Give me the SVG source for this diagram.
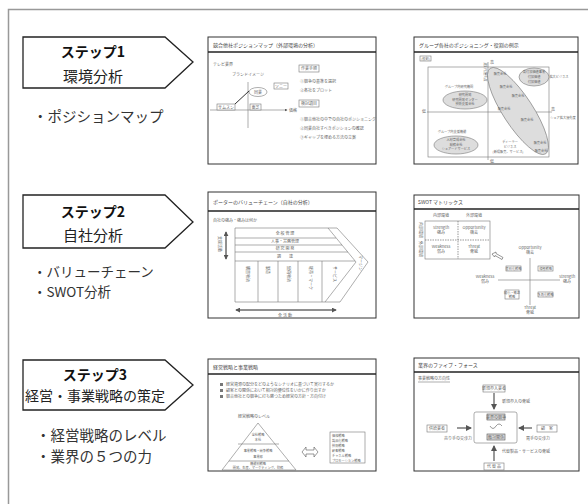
<svg xmlns="http://www.w3.org/2000/svg" width="588" height="504" viewBox="0 0 588 504">
<defs>
<style>
.step{fill:#fff;stroke:#222;stroke-width:1.3}
.sh{font-family:"Noto Sans CJK JP",sans-serif;font-size:14px;font-weight:bold;fill:#111;text-anchor:middle}
.sn{font-family:"Noto Sans CJK JP",sans-serif;font-size:15px;fill:#222;text-anchor:middle}
.bl{font-family:"Noto Sans CJK JP",sans-serif;font-size:14.5px;fill:#333}
.fr{fill:#fff;stroke:#333;stroke-width:1}
.tl{stroke:#222;stroke-width:1.6}
.tt{font-family:"Noto Sans CJK JP",sans-serif;font-size:5px;fill:#444}
.t{font-family:"Noto Sans CJK JP",sans-serif;font-size:4px;fill:#666}
.tc{font-family:"Noto Sans CJK JP",sans-serif;font-size:4px;fill:#666;text-anchor:middle}
.ts{font-family:"Noto Sans CJK JP",sans-serif;font-size:3.2px;fill:#666;text-anchor:middle}
.ln{stroke:#777;stroke-width:0.6;fill:none}
.bx{fill:#fff;stroke:#777;stroke-width:0.6}
.el{fill:#ddd;stroke:#777;stroke-width:0.6}
</style>
<marker id="ah" viewBox="0 0 6 6" refX="5" refY="3" markerWidth="5" markerHeight="5" orient="auto-start-reverse"><path d="M0,0 L6,3 L0,6 z" fill="#555"/></marker>
</defs>
<rect width="588" height="504" fill="#fff"/>
<path d="M8.5,504 V9.5 H588" fill="none" stroke="#999" stroke-width="1.5"/>

<g id="step1">
<polygon class="step" points="23,37 165,37 193,62 165,88 23,88"/>
<text class="sh" x="93" y="57">ステップ1</text>
<text class="sn" x="93" y="82">環境分析</text>
<text class="bl" x="33" y="122">・ポジションマップ</text>
</g>
<g id="step2">
<polygon class="step" points="23,195 165,195 193,222 165,248 23,248"/>
<text class="sh" x="93" y="217">ステップ2</text>
<text class="sn" x="93" y="241">自社分析</text>
<text class="bl" x="33" y="277" style="font-size:13.5px">・バリューチェーン</text>
<text class="bl" x="33" y="297" style="font-size:13.5px">・SWOT分析</text>
</g>
<g id="step3">
<polygon class="step" points="23,360 165,360 193,385 165,410 23,410"/>
<text class="sh" x="95" y="380">ステップ3</text>
<text class="sn" x="95" y="401" style="font-size:14px">経営・事業戦略の策定</text>
<text class="bl" x="36" y="441">・経営戦略のレベル</text>
<text class="bl" x="36" y="462">・業界の５つの力</text>
</g>

<g id="thumb1">
<rect class="fr" x="208" y="37" width="168" height="127"/>
<line class="tl" x1="208" y1="52" x2="376" y2="52"/>
<text class="tt" x="213" y="47">競合他社ポジションマップ（外部環境の分析）</text>
<text class="t" x="213" y="66">テレビ業界</text>
<text class="t" x="232" y="76">ブランドイメージ</text>
<line class="ln" x1="248" y1="82" x2="248" y2="128"/>
<line class="ln" x1="210" y1="110" x2="287" y2="110" marker-end="url(#ah)"/>
<text class="t" x="289" y="111.5">価格</text>
<ellipse cx="258" cy="92" rx="9" ry="4.5" fill="#fff" stroke="#777" stroke-width="0.6"/>
<text class="tc" x="258" y="93.5">同業</text>
<line x1="235" y1="104" x2="249" y2="91" stroke="#333" stroke-width="1"/>
<rect class="bx" x="274" y="83" width="14" height="6"/><text class="tc" x="281" y="87.5">ソニー</text>
<rect class="bx" x="217" y="104" width="18" height="6"/><text class="tc" x="226" y="108.5">サムスン</text>
<rect class="bx" x="250" y="104" width="11" height="6"/><text class="tc" x="255.5" y="108.5">東芝</text>
<rect class="bx" x="299" y="65" width="20" height="7"/><text class="tc" x="309" y="70">作業手順</text>
<text class="t" x="300" y="83">①競争の基準を選択</text>
<text class="t" x="300" y="92">②各社をプロット</text>
<rect class="bx" x="299" y="100" width="20" height="7"/><text class="tc" x="309" y="105">検討項目</text>
<text class="t" x="300" y="121">①競合他社の中での自社のポジショニング</text>
<text class="t" x="300" y="130">②同業自社すべきポジションの確認</text>
<text class="t" x="300" y="139">③ギャップを埋める方法の立案</text>
</g>

<g id="thumb2">
<rect class="fr" x="414" y="37" width="164" height="127"/>
<line class="tl" x1="414" y1="52" x2="578" y2="52"/>
<text class="tt" x="419" y="47">グループ各社のポジショニング・役割の例示</text>
<rect class="bx" x="420" y="56" width="11" height="5"/><text class="ts" x="425.5" y="59.8">(役割)</text>
<rect x="428" y="67" width="121" height="90" fill="none" stroke="#777" stroke-width="0.6"/>
<line class="ln" x1="488" y1="62" x2="488" y2="160"/>
<line class="ln" x1="427" y1="112" x2="552" y2="112"/>
<ellipse class="el" cx="518" cy="111" rx="51" ry="15" transform="rotate(57 518 111)"/>
<ellipse class="el" cx="534" cy="77" rx="15" ry="9"/>
<ellipse class="el" cx="465" cy="100" rx="22" ry="9"/>
<ellipse class="el" cx="456" cy="145" rx="22" ry="9"/>
<text class="t" x="490" y="64">高</text><text class="t" x="490" y="163">低</text>
<text class="t" x="422" y="113">低</text><text class="t" x="551" y="111">高</text>
<text class="ts" x="563" y="119">シェア拡大優先度</text>
<text class="ts" x="559" y="78">拡大ビジネス</text>
<text class="ts" x="534" y="73">高付加価値事業</text>
<text class="ts" x="534" y="78">付加価値</text>
<text class="ts" x="534" y="83">付加価値</text>
<text class="ts" x="459" y="88">グループ内研究機関</text>
<text class="ts" x="465" y="96">研究開発</text><text class="ts" x="465" y="100.5">研究開発センター</text><text class="ts" x="465" y="105">技術支援会社</text>
<text class="ts" x="452" y="133">グループ内支援機能</text>
<text class="ts" x="456" y="141">人材育成会社</text><text class="ts" x="456" y="145.5">総務会社</text><text class="ts" x="456" y="150">シェアードサービス</text>
<text class="ts" x="500" y="75">販売会社</text><text class="ts" x="506" y="88">販売会社</text><text class="ts" x="518" y="97">販売会社</text><text class="ts" x="504" y="110">販売会社</text><text class="ts" x="527" y="121">販売会社</text><text class="ts" x="540" y="144">販売会社</text><text class="ts" x="541" y="152">販売会社</text>
<text class="ts" x="510" y="143">ディーラー</text><text class="ts" x="510" y="148">ビジネス</text><text class="ts" x="508" y="153">(新規販売、サービス)</text>
<text class="ts" x="484" y="72" transform="rotate(90 484 72)">差別化優先度</text>
</g>

<g id="thumb3">
<rect class="fr" x="208" y="192" width="168" height="126"/>
<line class="tl" x1="208" y1="211" x2="376" y2="211"/>
<text class="tt" x="213" y="204">ポーターのバリューチェーン（自社の分析）</text>
<text class="t" x="213" y="222">自社の強み・強みは何か</text>
<line x1="226" y1="232" x2="226" y2="259" marker-start="url(#ah)" marker-end="url(#ah)" stroke="#222" stroke-width="1"/>
<text class="t" x="218" y="236" transform="rotate(90 218 236)">支援活動</text>
<path class="ln" d="M235,228 H337 L368,262 L340,302 H235 Z"/>
<path class="ln" d="M328,228 L356,262 L325,302"/>
<line class="ln" x1="235" y1="238" x2="336" y2="238"/>
<line class="ln" x1="235" y1="245" x2="342" y2="245"/>
<line class="ln" x1="235" y1="252" x2="348" y2="252"/>
<line class="ln" x1="235" y1="261" x2="355" y2="261"/>
<line class="ln" x1="258" y1="261" x2="258" y2="302"/>
<line class="ln" x1="278" y1="261" x2="278" y2="302"/>
<line class="ln" x1="298" y1="261" x2="298" y2="302"/>
<line class="ln" x1="322" y1="261" x2="322" y2="302"/>
<text class="tc" x="285" y="235">全 般 管 理</text>
<text class="tc" x="285" y="243">人事・労務管理</text>
<text class="tc" x="285" y="250">研 究 開 発</text>
<text class="tc" x="285" y="258">調　　達</text>
<text class="t" x="246" y="266" transform="rotate(90 246 266)">購買物流</text>
<text class="t" x="266" y="266" transform="rotate(90 266 266)">製造</text>
<text class="t" x="287" y="266" transform="rotate(90 287 266)">出荷物流</text>
<text class="t" x="309" y="266" transform="rotate(90 309 266)">販売・マーケ</text>
<text class="t" x="333" y="266" transform="rotate(90 333 266)">サービス</text>
<text class="t" x="359" y="255" transform="rotate(90 359 255)">マージン</text>
<line x1="236" y1="310" x2="336" y2="310" stroke="#222" stroke-width="1" marker-start="url(#ah)" marker-end="url(#ah)"/>
<text class="tc" x="285" y="317">全 活 動</text>
</g>

<g id="thumb4">
<rect class="fr" x="414" y="195" width="165" height="123"/>
<line class="tl" x1="414" y1="209" x2="579" y2="209"/>
<text class="tt" x="418" y="204">SWOT マトリックス</text>
<text class="tc" x="441" y="217">内部環境</text><text class="tc" x="474" y="217">外部環境</text>
<rect x="425" y="221" width="65" height="38" fill="none" stroke="#777" stroke-width="0.6"/>
<line x1="458" y1="221" x2="458" y2="259" stroke="#555" stroke-width="0.6" stroke-dasharray="1.5,1"/>
<line x1="425" y1="240" x2="490" y2="240" stroke="#555" stroke-width="0.6" stroke-dasharray="1.5,1"/>
<text class="t" x="419" y="222" transform="rotate(90 419 222)">内部環境</text>
<text class="t" x="419" y="241" transform="rotate(90 419 241)">外部環境</text>
<text class="tc" x="441" y="229">Strength</text><text class="tc" x="441" y="234">強み</text>
<text class="tc" x="474" y="229">Opportunity</text><text class="tc" x="474" y="234">機会</text>
<text class="tc" x="441" y="248">Weakness</text><text class="tc" x="441" y="253">弱み</text>
<text class="tc" x="474" y="248">Threat</text><text class="tc" x="474" y="253">脅威</text>
<path d="M492,254 l4,-2 l0,1.5 l7,4 l-1,2 l-7,-4 l-0.5,1.5 z" fill="#fff" stroke="#555" stroke-width="0.6"/>
<line class="ln" x1="530" y1="258" x2="530" y2="305"/>
<line class="ln" x1="498" y1="280" x2="560" y2="280"/>
<text class="tc" x="530" y="249">Opportunity</text><text class="tc" x="530" y="254">機会</text>
<text class="tc" x="485" y="278">Weakness</text><text class="tc" x="485" y="283">弱み</text>
<text class="tc" x="567" y="278">Strength</text><text class="tc" x="567" y="283">強み</text>
<text class="tc" x="530" y="309">Threat</text><text class="tc" x="530" y="314">脅威</text>
<rect class="bx" x="506" y="266" width="15" height="5"/><text class="ts" x="513.5" y="269.8">差別化戦略</text>
<rect class="bx" x="538" y="266" width="15" height="5"/><text class="ts" x="545.5" y="269.8">積極戦略</text>
<rect class="bx" x="505" y="290" width="14" height="9"/><text class="ts" x="512" y="293.8">縮小・撤退</text><text class="ts" x="512" y="297.8">戦略</text>
<rect class="bx" x="538" y="292" width="15" height="5"/><text class="ts" x="545.5" y="295.8">多角化戦略</text>
</g>

<g id="thumb5">
<rect class="fr" x="208" y="359" width="168" height="112"/>
<line class="tl" x1="208" y1="374" x2="376" y2="374"/>
<text class="tt" x="213" y="369">経営戦略と事業戦略</text>
<rect x="220" y="383" width="3" height="3" fill="#777"/><text class="t" x="226" y="386">経営資源の配分をどのようなシナリオに基づいて実行するか</text>
<rect x="220" y="389" width="3" height="3" fill="#777"/><text class="t" x="226" y="392">顧客との関係において相対的優位性をいかに作り出すか</text>
<rect x="220" y="395" width="3" height="3" fill="#777"/><text class="t" x="226" y="398">競合他社との競争に打ち勝つため経営の方針・方向付け</text>
<text class="t" x="238" y="418">経営戦略のレベル</text>
<path class="ln" d="M258,423 L222,470 H296 Z"/>
<line class="ln" x1="238" y1="444" x2="279" y2="444"/>
<line class="ln" x1="229" y1="461" x2="289" y2="461"/>
<text class="ts" x="258" y="436">全社戦略</text><text class="ts" x="258" y="441">本社</text>
<text class="ts" x="258" y="452">事業戦略・競争戦略</text><text class="ts" x="258" y="457.5">事業部</text>
<text class="ts" x="258" y="464.5">機能別戦略</text><text class="ts" x="258" y="469">開発、生産、マーケティング、財務</text>
<path d="M302,452 l4,-5 v3 h8 v-3 l4,5 l-4,5 v-3 h-8 v3 z" fill="#fff" stroke="#555" stroke-width="0.6"/>
<rect class="bx" x="330" y="432" width="35" height="31"/>
<text class="ts" x="332" y="437" style="text-anchor:start">価格戦略</text><text class="ts" x="332" y="442" style="text-anchor:start">製品化戦略</text><text class="ts" x="332" y="447" style="text-anchor:start">技術戦略</text><text class="ts" x="332" y="452" style="text-anchor:start">顧客戦略</text><text class="ts" x="332" y="457" style="text-anchor:start">チャネル戦略</text><text class="ts" x="332" y="462" style="text-anchor:start">プロモーション戦略</text>
</g>

<g id="thumb6">
<rect class="fr" x="414" y="358" width="165" height="113"/>
<line class="tl" x1="414" y1="372" x2="579" y2="372"/>
<text class="tt" x="418" y="367">業界のファイブ・フォース</text>
<text class="t" x="418" y="380">事業戦略の方向性</text>
<line class="ln" x1="418" y1="382" x2="450" y2="382"/>
<rect class="bx" x="483" y="385" width="22" height="7"/><text class="tc" x="494" y="390">新規参入業者</text>
<line x1="494" y1="393" x2="494" y2="409" stroke="#555" stroke-width="1.2" marker-end="url(#ah)"/>
<text class="t" x="502" y="403">新規参入の脅威</text>
<rect x="474" y="412" width="43" height="31" rx="2" fill="#fff" stroke="#777" stroke-width="0.6"/>
<rect x="487" y="414" width="18" height="6" fill="#ddd" stroke="#555" stroke-width="0.6"/><text class="tc" x="496" y="418.5">業界の競争</text>
<path d="M490,426 q3,5 6,0 M496,426 q3,-4 6,0" fill="none" stroke="#555" stroke-width="0.6"/>
<rect x="487" y="434" width="18" height="6" fill="#ddd" stroke="#555" stroke-width="0.6"/><text class="tc" x="496" y="438.5">敵対関係</text>
<rect class="bx" x="427" y="425" width="20" height="7"/><text class="tc" x="437" y="430">供給業者</text>
<line x1="457" y1="428" x2="471" y2="428" stroke="#555" stroke-width="1.2" marker-end="url(#ah)"/>
<text class="t" x="444" y="440">売り手の交渉力</text>
<rect class="bx" x="537" y="425" width="20" height="7"/><text class="tc" x="547" y="430">顧　客</text>
<line x1="532" y1="428" x2="519" y2="428" stroke="#555" stroke-width="1.2" marker-end="url(#ah)"/>
<text class="t" x="526" y="440">買手の交渉力</text>
<line x1="494" y1="461" x2="494" y2="446" stroke="#555" stroke-width="1.2" marker-end="url(#ah)"/>
<text class="t" x="502" y="453">代替製品・サービスの脅威</text>
<rect class="bx" x="484" y="463" width="20" height="7"/><text class="tc" x="494" y="468">代 替 品</text>
</g>
</svg>
